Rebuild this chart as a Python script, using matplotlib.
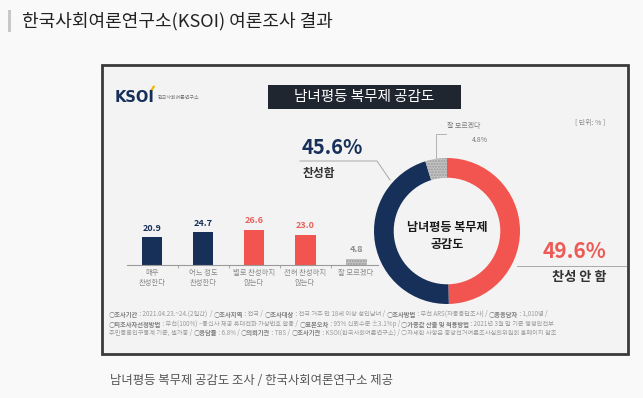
import matplotlib
matplotlib.use("Agg")
import matplotlib.pyplot as plt
from matplotlib.patches import Rectangle

plt.rcParams['font.family'] = ['Noto Sans CJK KR', 'DejaVu Sans']

# ---------------- data ----------------
categories = ["매우\n찬성한다", "어느 정도\n찬성한다", "별로 찬성하지\n않는다", "전혀 찬성하지\n않는다", "잘 모르겠다"]
values = [20.9, 24.7, 26.6, 23.0, 4.8]
value_labels = ["20.9", "24.7", "26.6", "23.0", "4.8"]

donut_labels = ["찬성 안 함", "찬성함", "잘 모르겠다"]
donut_values = [49.6, 45.6, 4.8]

header = "한국사회여론연구소(KSOI) 여론조사 결과"
chart_title = "남녀평등 복무제 공감도"
center_text = "남녀평등 복무제\n공감도"
caption = "남녀평등 복무제 공감도 조사 / 한국사회여론연구소 제공"
unit_text = "[ 단위: % ]"
logo_text = "KSOI"
logo_sub = "한국사회여론연구소"

foot_lines = [
    [("○조사기간", True), (" : 2021.04.23.~24.(2일간)  / ", False), ("○조사지역", True), (" : 전국 / ", False),
     ("○조사대상", True), (" : 전국 거주 만 18세 이상 성인남녀 / ", False), ("○조사방법", True),
     (" : 무선 ARS(자동응답조사) / ", False), ("○총응답자", True), (" : 1,010명 /", False)],
    [("○피조사자선정방법", True), (" : 무선(100%) –통신사 제공 휴대전화 가상번호 활용 / ", False),
     ("○표본오차", True), (" : 95% 신뢰수준 ±3.1%p / ", False), ("○가중값 산출 및 적용방법", True),
     (" : 2021년 3월 말 기준 행정안전부", False)],
    [("주민등록인구통계 기준, 셀가중 / ", False), ("○응답률", True), (" : 6.8% / ", False), ("○의뢰기관", True),
     (" : TBS / ", False), ("○조사기관", True), (" : KSOI(한국사회여론연구소) / ", False),
     ("○자세한 사항은 중앙선거여론조사심의위원회 홈페이지 참조", False)],
]

NAVY = "#17305a"
RED = "#f2554f"
GRAY = "#c4c4c4"
bar_colors = [NAVY, NAVY, RED, RED, GRAY]
label_colors = [NAVY, NAVY, "#e8615c", "#e8615c", "#8a8a8a"]
donut_colors = [RED, NAVY, GRAY]

W, H = 643, 398
fig = plt.figure(figsize=(W / 100, H / 100), dpi=100)
fig.patch.set_facecolor("#f9f9f9")


def fr(x, y, w, h):
    return [x / W, 1 - (y + h) / H, w / W, h / H]


# background / frame layer
bg = fig.add_axes([0, 0, 1, 1], zorder=0)
bg.set_xlim(0, W)
bg.set_ylim(H, 0)
bg.axis("off")
bg.add_patch(Rectangle((102, 65), 526, 289, facecolor="#f3f3f3", edgecolor="#3a3a3a", lw=2))
bg.add_patch(Rectangle((8, 10), 3, 22, facecolor="#c8c8c8", edgecolor="none"))
bg.add_patch(Rectangle((268, 85), 193, 24, facecolor="#1f2630", edgecolor="none"))

# ---------------- bar chart ----------------
ax = fig.add_axes(fr(127, 212, 251, 53), zorder=1)
ax.patch.set_alpha(0)
x = list(range(len(values)))
bars = ax.bar(x, values, width=0.41, color=bar_colors, linewidth=0)
bars[4].set_hatch("......")
bars[4].set_edgecolor("#9a9a9a")
bars[4].set_linewidth(0)
ax.set_xlim(-0.49, 4.43)
ax.set_ylim(0, 40)
for i, v in enumerate(values):
    ax.text(i, v + 6.8, value_labels[i], ha="center", va="center", fontsize=6.5,
            fontweight="bold", color=label_colors[i])
for s in ["top", "right", "left"]:
    ax.spines[s].set_visible(False)
ax.spines["bottom"].set_color("#9a9a9a")
ax.spines["bottom"].set_linewidth(0.8)
ax.set_yticks([])
ax.set_xticks(x)
ax.set_xticklabels(categories, fontsize=5.3, color="#8a8a8a", linespacing=1.25)
ax.tick_params(axis="x", which="major", length=0, pad=3)
ax.set_xticks([0.5, 1.5, 2.5, 3.5], minor=True)
ax.tick_params(axis="x", which="minor", length=2, color="#9a9a9a", width=0.6)

# ---------------- donut ----------------
cx, cy, R = 447, 231, 73
dax = fig.add_axes(fr(cx - R, cy - R, 2 * R, 2 * R), zorder=1)
wedges, _ = dax.pie(donut_values, colors=donut_colors, startangle=90, counterclock=False,
                    radius=1, wedgeprops=dict(width=0.27, linewidth=0))
wedges[2].set_hatch("......")
wedges[2].set_edgecolor("#9a9a9a")
wedges[2].set_linewidth(0)
dax.set_xlim(-1, 1)
dax.set_ylim(-1, 1)
dax.set_aspect("auto")
dax.axis("off")

# ---------------- overlay text ----------------
ov = fig.add_axes([0, 0, 1, 1], zorder=2)
ov.set_xlim(0, W)
ov.set_ylim(H, 0)
ov.axis("off")
ov.patch.set_alpha(0)
renderer = fig.canvas.get_renderer()

ov.text(22, 21, header, fontsize=13, color="#222222", va="center", ha="left")
ov.text(110, 380, caption, fontsize=8.9, color="#555555", va="center", ha="left")

# logo
lt = ov.text(115, 97.5, logo_text, fontsize=10.5, fontweight="bold", color=NAVY,
             va="center", ha="left", family="DejaVu Sans")
lb = lt.get_window_extent(renderer=renderer)
lx1 = lb.x1
ov.plot([lx1 - 4, lx1 - 1], [91, 86.5], color="#f2b705", lw=1.6, solid_capstyle="round")
ov.text(lx1 + 3, 97.5, logo_sub, fontsize=3.6, color="#777777", va="center", ha="left")

ov.text(364.5, 97, chart_title, fontsize=10.5, color="white", va="center", ha="center")
ov.text(590, 123, unit_text, fontsize=5, color="#8a8a8a", va="center", ha="center")

# donut annotations
ov.text(302, 148, f"{donut_values[1]}%", fontsize=14.5, fontweight="bold", color=NAVY,
        va="center", ha="left")
ov.text(303, 173, donut_labels[1], fontsize=8.5, fontweight="bold", color="#333333",
        va="center", ha="left")
ov.plot([300, 377, 390], [161, 161, 180], color="#a8a8a8", lw=0.7)

ov.text(606, 251, f"{donut_values[0]}%", fontsize=15, fontweight="bold", color="#ec5a56",
        va="center", ha="right")
ov.text(606, 277, donut_labels[0], fontsize=9.5, fontweight="bold", color="#333333",
        va="center", ha="right")
ov.plot([517, 626], [266, 266], color="#a8a8a8", lw=0.7)

ov.text(447, 126, donut_labels[2], fontsize=5, color="#7a7a7a", va="center", ha="left")
ov.text(472, 140, f"{donut_values[2]}%", fontsize=5, color="#7a7a7a", va="center", ha="left")
ov.plot([436, 436, 446], [158, 134, 134], color="#a8a8a8", lw=0.6)

ov.text(cx, cy + 5, center_text, fontsize=8.7, fontweight="bold", color="#1a1a1a",
        va="center", ha="center", linespacing=1.35)

# footnote
foot_y = [314, 324, 333]
for line, yy in zip(foot_lines, foot_y):
    xx = 109
    for s, b in line:
        t = ov.text(xx, yy, s, fontsize=4.5, fontweight="bold" if b else "normal",
                    color="#7d7d7d" if b else "#9a9a9a", va="center", ha="left")
        bb = t.get_window_extent(renderer=renderer)
        xx += bb.width

fig.savefig("out.png", dpi=100, facecolor=fig.get_facecolor())
